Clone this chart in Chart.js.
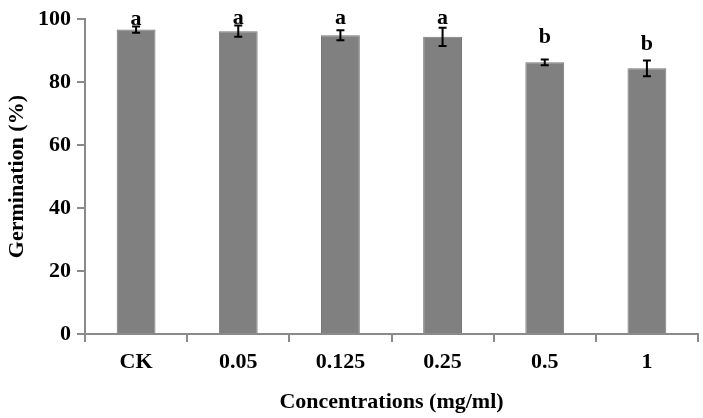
<!DOCTYPE html>
<html>
<head>
<meta charset="utf-8">
<script src="https://cdn.jsdelivr.net/npm/chart.js@4/dist/chart.umd.min.js"></script>
<style>
  html, body { margin: 0; padding: 0; background: #fff; }
  #chart { display: block; }
</style>
</head>
<body>
<canvas id="chart" width="703" height="418"></canvas>
<script>
var categories = ['CK', '0.05', '0.125', '0.25', '0.5', '1'];
var germination = [96.7, 96.2, 94.9, 94.4, 86.3, 84.4];
var errors = [1.0, 1.8, 1.6, 2.9, 0.9, 2.5];
var letters = ['a', 'a', 'a', 'a', 'b', 'b'];
// where the significance letters sit (bottom of letter, in % units)
var letterPos = [98.2, 98.5, 98.6, 98.6, 92.3, 90.1];

var axisGrey = '#8a8a8a';
var serif = 'Liberation Serif, Times New Roman, serif';

// error bars and letters on top of the bars
var extras = {
    id: 'extras',
    afterDatasetsDraw: function (chart) {
        var ctx = chart.ctx;
        var y = chart.scales.y;
        var meta = chart.getDatasetMeta(0);
        ctx.save();
        ctx.strokeStyle = '#000';
        ctx.lineWidth = 2;
        meta.data.forEach(function (bar, i) {
            var top = y.getPixelForValue(germination[i] + errors[i]);
            var bot = y.getPixelForValue(germination[i] - errors[i]);
            var cap = 4;
            ctx.beginPath();
            ctx.moveTo(bar.x, top);
            ctx.lineTo(bar.x, bot);
            ctx.moveTo(bar.x - cap, top);
            ctx.lineTo(bar.x + cap, top);
            ctx.moveTo(bar.x - cap, bot);
            ctx.lineTo(bar.x + cap, bot);
            ctx.stroke();
        });
        ctx.fillStyle = '#000';
        ctx.font = 'bold 22px ' + serif;
        ctx.textAlign = 'center';
        ctx.textBaseline = 'alphabetic';
        meta.data.forEach(function (bar, i) {
            ctx.fillText(letters[i], bar.x, y.getPixelForValue(letterPos[i]));
        });
        ctx.restore();
    }
};

new Chart(document.getElementById('chart'), {
    type: 'bar',
    data: {
        labels: categories,
        datasets: [
            {
                label: 'Germination',
                data: germination,
                backgroundColor: '#808080',
                borderColor: '#767676',
                borderWidth: 1,
                barPercentage: 0.38,
                categoryPercentage: 1
            }
        ]
    },
    options: {
        responsive: false,
        animation: false,
        layout: { padding: { left: 0, top: 10, right: 5, bottom: 0 } },
        plugins: {
            legend: { display: false },
            tooltip: { enabled: false }
        },
        scales: {
            y: {
                min: 0,
                max: 100,
                afterFit: function (s) { s.width = 85; },
                ticks: {
                    stepSize: 20,
                    color: '#000',
                    padding: 6,
                    font: { family: serif, size: 22, weight: 'bold' }
                },
                grid: {
                    drawOnChartArea: false,
                    drawTicks: true,
                    tickLength: 8,
                    color: axisGrey,
                    lineWidth: 2
                },
                border: { color: axisGrey, width: 2 },
                title: {
                    display: true,
                    text: 'Germination (%)',
                    color: '#000',
                    padding: { top: 4, bottom: 0 },
                    font: { family: serif, size: 22, weight: 'bold' }
                }
            },
            x: {
                afterFit: function (s) { s.height = 84; },
                ticks: {
                    color: '#000',
                    padding: 7,
                    font: { family: serif, size: 22, weight: 'bold' }
                },
                grid: {
                    offset: true,
                    drawOnChartArea: false,
                    drawTicks: true,
                    tickLength: 8,
                    color: axisGrey,
                    lineWidth: 2
                },
                border: { color: axisGrey, width: 2 },
                title: {
                    display: true,
                    text: 'Concentrations (mg/ml)',
                    color: '#000',
                    padding: { top: 0, bottom: 2 },
                    font: { family: serif, size: 22, weight: 'bold' }
                }
            }
        }
    },
    plugins: [extras]
});
</script>
</body>
</html>
